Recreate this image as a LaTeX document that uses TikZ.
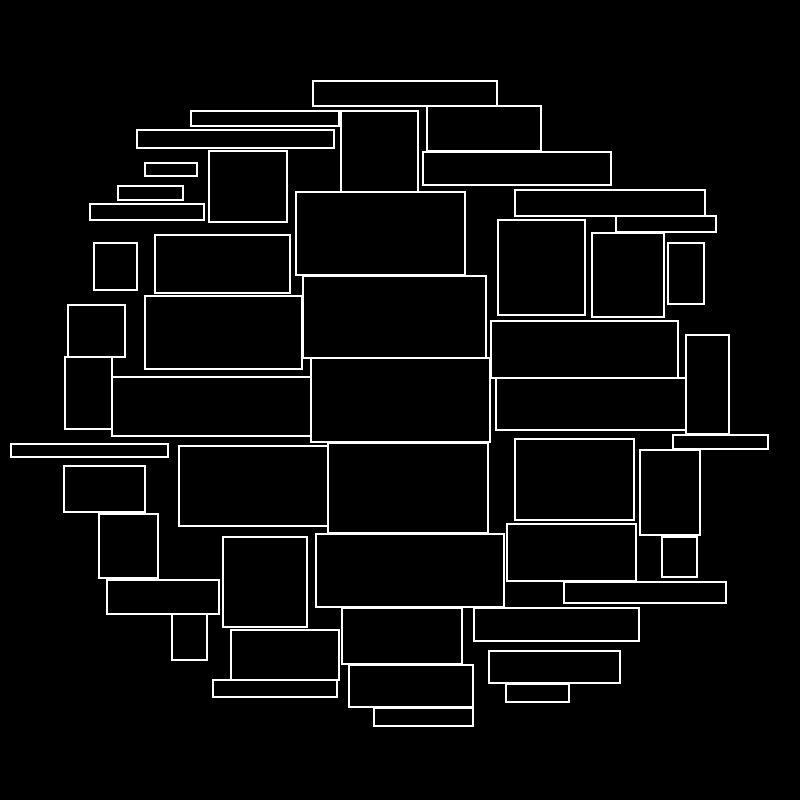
\documentclass[tikz,border=0pt]{standalone}
\begin{document}
\begin{tikzpicture}[
    x=0.01cm, y=-0.01cm,
    tile/.style={draw=white, line width=0.6pt}
  ]
  % background and frame
  \fill[black] (0,0) rectangle (800,800);
  \useasboundingbox (0,0) rectangle (800,800);

  % tiles (x1/y1/x2/y2 in pixels)
  \foreach \xa/\ya/\xb/\yb in {
      313/81/497/106, 191/111/339/126, 137/130/334/148, 341/111/418/192,
      427/106/541/151, 423/152/611/185, 145/163/197/176, 209/151/287/222,
      118/186/183/200, 90/204/204/220, 296/192/465/275, 515/190/705/216,
      616/216/716/232, 94/243/137/290, 155/235/290/293, 498/220/585/315,
      592/233/664/317, 668/243/704/304, 303/276/486/358, 68/305/125/357,
      145/296/302/369, 491/321/678/378, 686/335/729/434, 65/357/112/429,
      112/377/311/436, 311/358/490/442, 496/378/686/430, 11/444/168/457,
      673/435/768/449, 64/466/145/512, 179/446/328/526, 328/443/488/533,
      515/439/634/520, 640/450/700/535, 99/514/158/578, 223/537/307/627,
      316/534/504/607, 507/524/636/581, 662/537/697/577, 107/580/219/614,
      564/582/726/603, 172/614/207/660, 342/608/462/664, 474/608/639/641,
      231/630/339/680, 489/651/620/683, 213/680/337/697, 349/665/473/707,
      506/684/569/702, 374/708/473/726}
    \draw[tile] (\xa,\ya) rectangle (\xb,\yb);
\end{tikzpicture}
\end{document}
